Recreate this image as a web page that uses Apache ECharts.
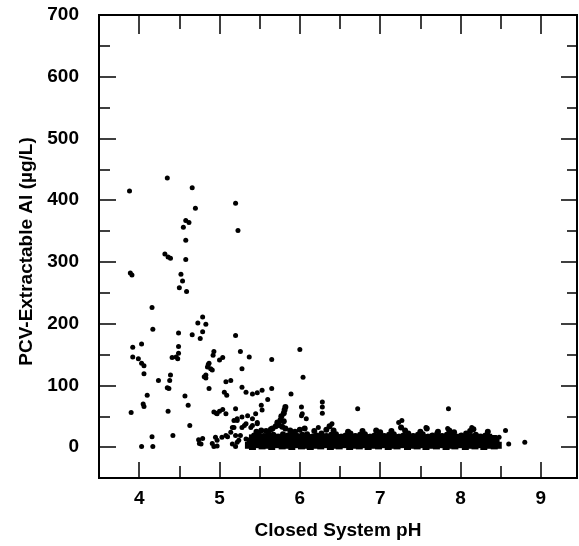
<!DOCTYPE html>
<html><head><meta charset="utf-8">
<script src="https://cdn.jsdelivr.net/npm/echarts@6/dist/echarts.min.js"></script>
<style>html,body{margin:0;padding:0;background:#fff}#c{width:579px;height:546px}</style>
</head><body><div id="c"></div>
<script>
const xTicksMajor = [4, 5, 6, 7, 8, 9];
const xTicksMinor = [4.5, 5.5, 6.5, 7.5, 8.5];
const yTicksMajor = [0, 100, 200, 300, 400, 500, 600, 700];
const yTicksMinor = [50, 150, 250, 350, 450, 550, 650];

// scattered (sparse) observations: [pH, Al µg/L]
const sparsePoints = [
  [3.88,415],[4.35,436],[4.66,420],[4.70,387],[5.20,395],[5.23,351],
  [4.58,367],[4.62,364],[4.55,356],[4.58,335],[4.58,304],
  [4.32,313],[4.36,308],[4.39,306],[3.89,282],[3.91,279],
  [4.52,280],[4.54,269],[4.50,258],[4.59,252],[4.16,226],[4.17,191],
  [4.79,211],[4.73,201],[4.83,199],[4.79,187],[4.76,176],[4.66,182],
  [4.49,185],[4.49,163],[4.49,152],[4.46,146],[4.41,145],[4.48,143],
  [3.92,162],[3.92,146],[4.03,167],[3.99,143],[4.03,136],[4.06,132],[4.06,119],
  [4.24,108],[4.39,117],[4.38,108],[4.37,95],[4.35,96],
  [4.10,84],[4.05,70],[4.06,66],[3.90,56],[4.36,58],
  [4.57,83],[4.61,68],[4.63,35],[4.42,19],[4.16,17],[4.17,1],[4.03,1],
  [4.74,12],[4.77,5],[4.79,14],[4.75,6],
  [4.93,155],[4.92,149],[4.87,136],[4.85,130],[4.89,127],[4.91,125],[4.83,117],[4.86,134],
  [5.04,145],[5.00,141],[5.20,181],[5.26,155],[5.37,146],[5.65,142],[5.28,127],
  [4.81,114],[4.83,112],[4.87,95],[5.08,106],[5.14,108],[5.06,89],[5.09,84],
  [5.28,97],[5.33,89],[5.41,86],[5.47,88],[5.53,92],[5.65,95],[5.60,77],
  [4.93,57],[4.96,55],[5.00,58],[5.04,61],[5.08,54],[4.97,54],[5.20,62],[5.22,46],[5.18,32],
  [5.28,49],[5.35,51],[5.41,46],[5.45,54],[5.52,68],[5.53,60],
  [5.18,43],[5.22,43],[5.33,38],[5.41,35],[5.47,40],[5.16,32],[5.28,32],
  [5.31,35],[5.39,32],[5.47,38],
  [4.91,6],[4.95,16],[4.97,2],[4.93,1],[4.97,11],[5.03,16],[5.08,19],[5.10,17],
  [5.14,24],[5.16,5],[5.20,1],[5.20,19],[5.22,8],[5.24,11],[5.26,19],[5.33,13],
  [5.89,86],[6.00,158],[6.04,113],[6.02,65],[6.02,51],[6.03,54],[6.08,46],
  [6.28,73],[6.28,65],[6.28,55],[6.23,32],[6.40,38],[6.72,62],
  [7.23,40],[7.27,43],[7.57,32],[7.84,30],[7.85,62],[8.14,32],
  [8.48,16],[8.56,27],[8.60,5],[8.80,8]
];

// dense band of observations at pH 5.4 - 8.5 (solid core): [pH, Al µg/L]
const bandPoints = [
  [5.36,3],[5.41,1],[5.47,4],[5.53,2],[5.60,3],[5.65,1],[5.72,4],[5.78,2],[5.83,3],[5.90,1],
  [5.95,4],[6.02,2],[6.08,3],[6.13,1],[6.20,3],[6.26,2],[6.31,4],[6.38,1],[6.44,3],[6.49,2],
  [6.56,4],[6.62,1],[6.67,3],[6.74,2],[6.80,4],[6.85,1],[6.92,3],[6.98,2],[7.03,4],[7.10,1],
  [7.16,3],[7.21,2],[7.28,4],[7.34,1],[7.39,3],[7.46,2],[7.52,4],[7.57,1],[7.64,3],[7.70,2],
  [7.75,4],[7.82,1],[7.88,3],[7.93,2],[8.00,4],[8.06,1],[8.11,3],[8.18,2],[8.24,4],[8.29,1],
  [8.36,3],[8.42,2],[8.47,3],
  [5.38,6],[5.44,7],[5.50,5],[5.56,6],[5.62,7],[5.68,5],[5.74,6],[5.80,7],[5.86,5],[5.92,6],
  [5.98,7],[6.04,5],[6.10,6],[6.16,7],[6.22,5],[6.28,6],[6.34,7],[6.40,5],[6.46,6],[6.52,7],
  [6.58,5],[6.64,6],[6.70,7],[6.76,5],[6.82,6],[6.88,7],[6.94,5],[7.00,6],[7.06,7],[7.12,5],
  [7.18,6],[7.24,7],[7.30,5],[7.36,6],[7.42,7],[7.48,5],[7.54,6],[7.60,7],[7.66,5],[7.72,6],
  [7.78,7],[7.84,5],[7.90,6],[7.96,7],[8.02,5],[8.08,6],[8.14,7],[8.20,5],[8.26,6],[8.32,7],
  [8.38,5],[8.44,6],
  [5.39,10],[5.45,12],[5.50,9],[5.57,13],[5.63,11],[5.68,10],[5.75,12],[5.81,9],[5.86,13],[5.93,11],
  [5.99,10],[6.04,12],[6.11,9],[6.17,13],[6.22,11],[6.29,10],[6.35,12],[6.40,9],[6.47,13],[6.53,11],
  [6.58,10],[6.65,12],[6.71,9],[6.76,13],[6.83,11],[6.89,10],[6.94,12],[7.01,9],[7.07,13],[7.12,11],
  [7.19,10],[7.25,12],[7.30,9],[7.37,13],[7.43,11],[7.48,10],[7.55,12],[7.61,9],[7.66,13],[7.73,11],
  [7.79,10],[7.84,12],[7.91,9],[7.97,13],[8.02,11],[8.09,10],[8.15,12],[8.20,9],[8.27,13],[8.33,11],
  [8.38,10],[8.44,12],
  [5.41,15],[5.47,16],[5.53,15],[5.59,16],[5.65,15],[5.71,16],[5.77,15],[5.83,16],[5.89,15],[5.95,16],
  [6.01,15],[6.07,16],[6.13,15],[6.19,16],[6.25,15],[6.31,16],[6.37,15],[6.43,16],[6.49,15],[6.55,16],
  [6.61,15],[6.67,16],[6.73,15],[6.79,16],[6.85,15],[6.91,16],[6.97,15],[7.03,16],[7.09,15],[7.15,16],
  [7.21,15],[7.27,16],[7.33,15],[7.39,16],[7.45,15],[7.51,16],[7.57,15],[7.63,16],[7.69,15],[7.75,16],
  [7.81,15],[7.87,16],[7.93,15],[7.99,16],[8.05,15],[8.11,16],[8.17,15],[8.23,16],[8.29,15],[8.35,16],
  [8.41,14]
];

// ragged upper edge of the dense band: [pH, Al µg/L]
const bandTopPoints = [
  [5.43,19],[5.49,21],[5.55,18],[5.61,22],[5.67,20],[5.73,17],[5.79,21],[5.85,19],[5.91,22],[5.97,18],
  [6.03,20],[6.09,21],[6.15,17],[6.21,19],[6.27,22],[6.33,18],[6.39,20],[6.45,21],[6.51,17],[6.57,19],
  [6.63,22],[6.69,18],[6.75,20],[6.81,21],[6.87,17],[6.93,19],[6.99,22],[7.05,18],[7.11,20],[7.17,21],
  [7.23,17],[7.29,19],[7.35,22],[7.41,18],[7.47,20],[7.53,21],[7.59,17],[7.65,19],[7.71,22],[7.77,18],
  [7.83,20],[7.89,21],[7.95,17],[8.01,19],[8.07,22],[8.13,18],[8.19,20],[8.25,17],[8.31,19],[8.37,16],
  [5.46,25],[5.52,27],[5.58,26],[5.64,29],[5.66,30],[5.70,34],[5.74,36],[5.78,33],[5.82,30],
  [5.72,40],[5.76,44],[5.80,42],[5.77,50],[5.80,55],[5.81,60],[5.82,65],
  [5.88,27],[5.94,25],[6.00,28],[6.06,30],[6.18,26],[6.33,28],[6.37,34],[6.42,27],[6.60,25],
  [6.78,26],[6.95,27],[7.00,24],[7.14,26],[7.26,32],[7.31,27],[7.50,25],[7.58,30],[7.72,25],
  [7.86,27],[7.92,24],[8.12,26],[8.16,29],[8.34,25]
];

const FONT = 'Liberation Sans, Arial, sans-serif';
const X_MIN = 3.5, X_MAX = 9.45, Y_MIN = -50, Y_MAX = 700;

function xAx(pos, ticks, len, opts) {
  return Object.assign({
    type: 'value', position: pos, min: X_MIN, max: X_MAX,
    axisLine: { show: true, onZero: false, lineStyle: { color: '#000', width: 2 } },
    axisTick: { show: true, inside: true, length: len, customValues: ticks, lineStyle: { color: '#000', width: 1.5 } },
    axisLabel: { show: false },
    splitLine: { show: false }
  }, opts || {});
}
function yAx(pos, ticks, len, opts) {
  return Object.assign({
    type: 'value', position: pos, min: Y_MIN, max: Y_MAX,
    axisLine: { show: true, onZero: false, lineStyle: { color: '#000', width: 2 } },
    axisTick: { show: true, inside: true, length: len, customValues: ticks, lineStyle: { color: '#000', width: 1.5 } },
    axisLabel: { show: false },
    splitLine: { show: false }
  }, opts || {});
}

const dotStyle = { color: '#000', opacity: 1, borderWidth: 0, shadowBlur: 0 };

const chart = echarts.init(document.getElementById('c'), null, { renderer: 'canvas' });
chart.setOption({
  animation: false,
  backgroundColor: '#fff',
  grid: { left: 99, right: 2, top: 15, bottom: 68, containLabel: false },
  xAxis: [
    xAx('bottom', xTicksMajor, 16, {
      axisLabel: { show: true, customValues: xTicksMajor, margin: 11, color: '#000',
        fontFamily: FONT, fontSize: 19, fontWeight: 'bold' },
      name: 'Closed System pH', nameLocation: 'middle', nameGap: 43,
      nameTextStyle: { color: '#000', fontFamily: FONT, fontSize: 19, fontWeight: 'bold' }
    }),
    xAx('bottom', xTicksMinor, 12),
    xAx('top', xTicksMajor, 19),
    xAx('top', xTicksMinor, 14)
  ],
  yAxis: [
    yAx('left', yTicksMajor, 17, {
      axisLabel: { show: true, customValues: yTicksMajor, margin: 20, color: '#000',
        fontFamily: FONT, fontSize: 19, fontWeight: 'bold' },
      name: 'PCV-Extractable Al (µg/L)', nameLocation: 'middle', nameGap: 63,
      nameTextStyle: { color: '#000', fontFamily: FONT, fontSize: 19, fontWeight: 'bold', padding: [0, 10, 0, 0] }
    }),
    yAx('left', yTicksMinor, 11),
    yAx('right', yTicksMajor, 16),
    yAx('right', yTicksMinor, 10)
  ],
  series: [
    { type: 'scatter', xAxisIndex: 0, yAxisIndex: 0, data: sparsePoints, large: false,
      symbol: 'circle', symbolSize: 5, itemStyle: dotStyle, silent: true },
    { type: 'scatter', xAxisIndex: 0, yAxisIndex: 0, data: bandPoints, large: false,
      symbol: 'rect', symbolSize: 7, itemStyle: dotStyle, silent: true },
    { type: 'scatter', xAxisIndex: 0, yAxisIndex: 0, data: bandTopPoints, large: false,
      symbol: 'circle', symbolSize: 6, itemStyle: dotStyle, silent: true }
  ]
});
</script>
</body></html>
